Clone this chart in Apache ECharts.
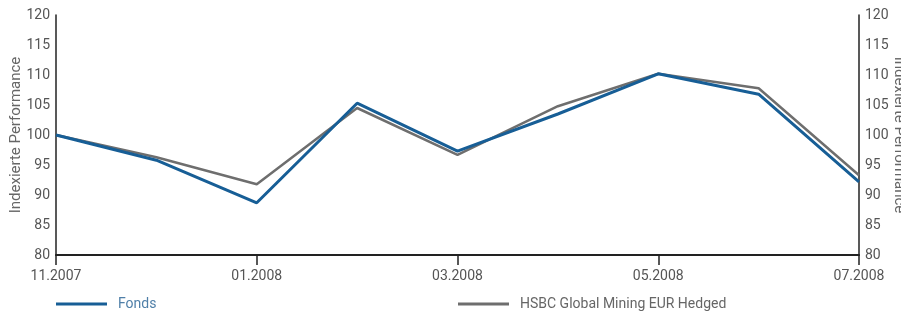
<!DOCTYPE html>
<html>
<head>
<meta charset="utf-8">
<script src="https://cdn.jsdelivr.net/npm/echarts@6/dist/echarts.min.js"></script>
<style>
html, body { margin: 0; padding: 0; background: #fff; }
#chart { width: 901px; height: 313px; }
</style>
</head>
<body>
<div id="chart"></div>
<script>
// monthly points, labels every second month
var months = ['11.2007', '12.2007', '01.2008', '02.2008', '03.2008', '04.2008', '05.2008', '06.2008', '07.2008']
var fonds = [100, 95.8, 88.7, 105.3, 97.3, 103.5, 110.2, 106.8, 92.2]
var hsbc = [100, 96.3, 91.8, 104.5, 96.7, 104.8, 110.2, 107.8, 93.3]

var fontFam = 'Roboto'
var axisName = 'Indexierte Performance'

var chart = echarts.init(document.getElementById('chart'))

function yAxisCfg (pos) {
  return {
    type: 'value',
    position: pos,
    min: 80,
    max: 120,
    interval: 5,
    name: axisName,
    nameLocation: 'middle',
    nameGap: 32,
    nameMoveOverlap: false,
    nameRotate: pos === 'left' ? 90 : -90,
    nameTextStyle: { color: '#666', fontSize: 15, fontFamily: fontFam },
    axisLine: { show: true, lineStyle: { color: '#222', width: 1.5 } },
    axisTick: { show: false },
    splitLine: { show: false },
    axisLabel: { color: '#555', fontSize: 14, fontFamily: fontFam, margin: 6 }
  }
}

var option = {
  backgroundColor: '#fff',
  animation: false,
  grid: { left: 56, right: 42, top: 15, bottom: 58, outerBoundsMode: 'none', containLabel: false },
  legend: [
    {
      left: 56, top: 297, padding: 0,
      icon: 'rect', itemWidth: 51, itemHeight: 3, itemGap: 10,
      data: [{ name: 'Fonds', textStyle: { color: '#4f7fa8' } }],
      textStyle: { fontSize: 14, fontFamily: fontFam, padding: [0, 0, 0, 6] }
    },
    {
      left: 458, top: 297, padding: 0,
      icon: 'rect', itemWidth: 51, itemHeight: 3, itemGap: 10,
      data: [{ name: 'HSBC Global Mining EUR Hedged', textStyle: { color: '#666' } }],
      textStyle: { fontSize: 14, fontFamily: fontFam, padding: [0, 0, 0, 6] }
    }
  ],
  xAxis: {
    type: 'category',
    data: months,
    boundaryGap: false,
    axisLine: { lineStyle: { color: '#222', width: 2 } },
    axisTick: { show: true, interval: 1, length: 10, lineStyle: { color: '#222', width: 1.5 } },
    axisLabel: { interval: 1, color: '#555', fontSize: 14, fontFamily: fontFam, margin: 14 }
  },
  yAxis: [yAxisCfg('left'), yAxisCfg('right')],
  series: [
    {
      name: 'HSBC Global Mining EUR Hedged',
      type: 'line',
      data: hsbc,
      symbol: 'none',
      z: 2,
      lineStyle: { color: '#6e6e6e', width: 2.5 },
      itemStyle: { color: '#6e6e6e' }
    },
    {
      name: 'Fonds',
      type: 'line',
      data: fonds,
      symbol: 'none',
      z: 3,
      lineStyle: { color: '#175e96', width: 3 },
      itemStyle: { color: '#175e96' }
    }
  ]
}

chart.setOption(option)
</script>
</body>
</html>
